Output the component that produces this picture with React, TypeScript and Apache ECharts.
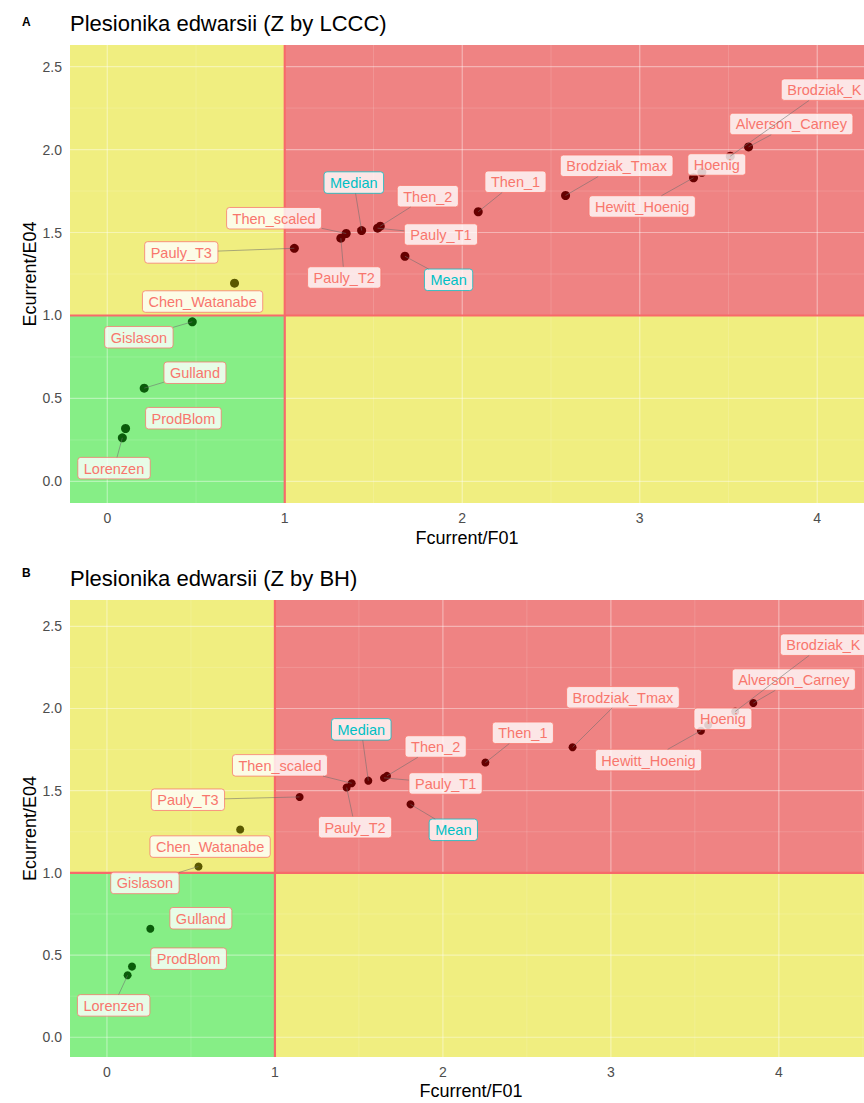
import React, { useEffect, useRef } from "react";
import * as echarts from "echarts";

// ---------- data ----------
const methods = [
  "Lorenzen", "ProdBlom", "Gulland", "Gislason", "Chen_Watanabe", "Pauly_T3",
  "Pauly_T2", "Then_scaled", "Median", "Pauly_T1", "Then_2", "Mean", "Then_1",
  "Brodziak_Tmax", "Hewitt_Hoenig", "Hoenig", "Alverson_Carney", "Brodziak_K",
];

// Panel A (Z by LCCC)
const fRatioA = [0.085, 0.103, 0.208, 0.479, 0.717, 1.054, 1.316, 1.346, 1.433, 1.523, 1.538, 1.677, 2.09, 2.582, 3.303, 3.35, 3.613, 3.51];
const eRatioA = [0.263, 0.319, 0.562, 0.962, 1.195, 1.405, 1.466, 1.494, 1.512, 1.526, 1.538, 1.357, 1.625, 1.723, 1.83, 1.863, 2.016, 1.96];
// Panel B (Z by BH)
const fRatioB = [0.123, 0.149, 0.258, 0.545, 0.793, 1.147, 1.427, 1.457, 1.556, 1.649, 1.667, 1.807, 2.253, 2.772, 3.536, 3.579, 3.848, 3.74];
const eRatioB = [0.377, 0.43, 0.66, 1.039, 1.264, 1.462, 1.519, 1.545, 1.561, 1.578, 1.59, 1.417, 1.671, 1.764, 1.865, 1.9, 2.033, 1.982];

// repelled label anchors (data units)
const labelFA = [0.038, 0.429, 0.494, 0.178, 0.537, 0.417, 1.335, 0.94, 1.389, 1.88, 1.806, 1.923, 2.3, 2.87, 3.014, 3.434, 3.854, 4.04];
const labelEA = [0.08, 0.381, 0.655, 0.869, 1.084, 1.38, 1.229, 1.586, 1.801, 1.488, 1.719, 1.215, 1.806, 1.902, 1.657, 1.91, 2.154, 2.361];
const labelFB = [0.04, 0.486, 0.559, 0.226, 0.614, 0.482, 1.477, 1.03, 1.514, 2.016, 1.957, 2.062, 2.476, 3.072, 3.224, 3.667, 4.089, 4.265];
const labelEB = [0.194, 0.478, 0.724, 0.939, 1.16, 1.445, 1.278, 1.654, 1.873, 1.544, 1.769, 1.262, 1.852, 2.068, 1.686, 1.937, 2.176, 2.388];
const segmentA = [1, 0, 1, 1, 0, 1, 1, 1, 1, 1, 1, 1, 1, 1, 1, 0, 1, 1];
const segmentB = [1, 0, 0, 1, 0, 1, 1, 1, 1, 1, 1, 1, 1, 1, 1, 0, 1, 1];

const xTicks = [0, 1, 2, 3, 4];
const xMinor = [0.5, 1.5, 2.5, 3.5, 4.5];
const yTicks = [0, 0.5, 1, 1.5, 2, 2.5];
const yMinor = [0.25, 0.75, 1.25, 1.75, 2.25];
const fRef = 1;
const eRef = 1;
const summaryMethods = ["Mean", "Median"];

// ---------- styles ----------
const FONT = '"Liberation Sans", Arial, Helvetica, sans-serif';
const LABEL_FONT_SIZE = 14.5;
const GREEN = "#86EE86";
const YELLOW = "#F0EE80";
const RED = "#EF8383";
const REF_LINE = "#F76A6A";
const SALMON = "#F8766D";
const TEAL = "#00BFC4";

let measureCtx: CanvasRenderingContext2D | null = null;
function measure(text: string): number {
  if (!measureCtx) {
    const c = document.createElement("canvas");
    measureCtx = c.getContext("2d");
  }
  if (measureCtx) {
    measureCtx.font = `${LABEL_FONT_SIZE}px ${FONT}`;
    return measureCtx.measureText(text).width;
  }
  return text.length * 7.8;
}

interface Panel {
  title: string;
  letter: string;
  f: number[];
  e: number[];
  lf: number[];
  le: number[];
  seg: number[];
  grid: { left: number; top: number; width: number; height: number };
  xMin: number;
  xMax: number;
  yMin: number;
  yMax: number;
  titleY: number;
  letterY: number;
  xTitleX: number;
  xTitleY: number;
  pointSize: number;
}

const panels: Panel[] = [
  {
    title: "Plesionika edwarsii (Z by LCCC)",
    letter: "A",
    f: fRatioA, e: eRatioA, lf: labelFA, le: labelEA, seg: segmentA,
    grid: { left: 70, top: 45, width: 820, height: 458 },
    xMin: -0.21, xMax: 4.41, yMin: -0.13, yMax: 2.63,
    titleY: 23.5, letterY: 22, xTitleX: 467, xTitleY: 538, pointSize: 9,
  },
  {
    title: "Plesionika edwarsii (Z by BH)",
    letter: "B",
    f: fRatioB, e: eRatioB, lf: labelFB, le: labelEB, seg: segmentB,
    grid: { left: 70, top: 600, width: 813, height: 457 },
    xMin: -0.22, xMax: 4.62, yMin: -0.12, yMax: 2.66,
    titleY: 578, letterY: 572.5, xTitleX: 471, xTitleY: 1091, pointSize: 8,
  },
];

function pointColor(f: number, e: number): string {
  if (f < fRef && e < eRef) return "#0A5C0A";
  if (f >= fRef && e >= eRef) return "#660000";
  return "#5A5800";
}

function backgroundRender(params: any, api: any) {
  const cs = params.coordSys;
  const x0 = cs.x, x1 = cs.x + cs.width, y0 = cs.y, y1 = cs.y + cs.height;
  const ref = api.coord([fRef, eRef]);
  const rx = ref[0], ry = ref[1];
  const children: any[] = [
    { type: "rect", shape: { x: x0, y: ry, width: rx - x0, height: y1 - ry }, style: { fill: GREEN } },
    { type: "rect", shape: { x: x0, y: y0, width: rx - x0, height: ry - y0 }, style: { fill: YELLOW } },
    { type: "rect", shape: { x: rx, y: y0, width: x1 - rx, height: ry - y0 }, style: { fill: RED } },
    { type: "rect", shape: { x: rx, y: ry, width: x1 - rx, height: y1 - ry }, style: { fill: YELLOW } },
  ];
  const minorStyle = { stroke: "rgba(255,255,255,0.2)", lineWidth: 0.7 };
  const majorStyle = { stroke: "rgba(255,255,255,0.4)", lineWidth: 1.2 };
  xMinor.forEach((v) => {
    const px = api.coord([v, eRef])[0];
    children.push({ type: "line", shape: { x1: px, y1: y0, x2: px, y2: y1 }, style: minorStyle });
  });
  yMinor.forEach((v) => {
    const py = api.coord([fRef, v])[1];
    children.push({ type: "line", shape: { x1: x0, y1: py, x2: x1, y2: py }, style: minorStyle });
  });
  xTicks.forEach((v) => {
    const px = api.coord([v, eRef])[0];
    children.push({ type: "line", shape: { x1: px, y1: y0, x2: px, y2: y1 }, style: majorStyle });
  });
  yTicks.forEach((v) => {
    const py = api.coord([fRef, v])[1];
    children.push({ type: "line", shape: { x1: x0, y1: py, x2: x1, y2: py }, style: majorStyle });
  });
  children.push({ type: "line", shape: { x1: rx, y1: y0, x2: rx, y2: y1 }, style: { stroke: REF_LINE, lineWidth: 2.2 } });
  children.push({ type: "line", shape: { x1: x0, y1: ry, x2: x1, y2: ry }, style: { stroke: REF_LINE, lineWidth: 2.2 } });
  return { type: "group", children };
}

function makeLabelRender(panel: Panel) {
  return (params: any, api: any) => {
    const i = api.value(4);
    const name = methods[i];
    const c = api.coord([api.value(0), api.value(1)]);
    const p = api.coord([api.value(2), api.value(3)]);
    const w = measure(name) + 12;
    const h = 21.5;
    const color = summaryMethods.includes(name) ? TEAL : SALMON;
    const children: any[] = [
      {
        type: "rect",
        shape: { x: c[0] - w / 2, y: c[1] - h / 2, width: w, height: h, r: 3 },
        style: { fill: "rgba(255,255,255,0.8)", stroke: color, lineWidth: 0.9, strokeOpacity: 0.85 },
      },
      {
        type: "text",
        x: c[0],
        y: c[1] + 0.5,
        style: {
          text: name,
          fill: color,
          fontSize: LABEL_FONT_SIZE,
          fontFamily: FONT,
          align: "center",
          verticalAlign: "middle",
        },
      },
    ];
    if (panel.seg[i]) {
      const dx = p[0] - c[0];
      const dy = p[1] - c[1];
      const tx = dx !== 0 ? (w / 2) / Math.abs(dx) : Infinity;
      const ty = dy !== 0 ? (h / 2) / Math.abs(dy) : Infinity;
      const t = Math.min(tx, ty);
      if (t < 1) {
        children.push({
          type: "line",
          shape: { x1: c[0] + dx * t, y1: c[1] + dy * t, x2: p[0], y2: p[1] },
          style: { stroke: "rgba(110,110,110,0.55)", lineWidth: 1 },
        });
      }
    }
    return { type: "group", children };
  };
}

export default function App() {
  const ref = useRef<HTMLDivElement>(null);
  useEffect(() => {
    if (!ref.current) return;
    const chart = echarts.init(ref.current, undefined, { renderer: "svg" });

    const grids: any[] = [];
    const xAxes: any[] = [];
    const yAxes: any[] = [];
    const series: any[] = [];
    const graphics: any[] = [];

    panels.forEach((panel, k) => {
      grids.push({ ...panel.grid, containLabel: false });
      xAxes.push({
        type: "value",
        gridIndex: k,
        min: panel.xMin,
        max: panel.xMax,
        axisLine: { show: false },
        splitLine: { show: false },
        axisTick: { show: true, length: 4, customValues: xTicks, lineStyle: { color: "#333333", width: 1.1 } },
        axisLabel: { customValues: xTicks, color: "#4D4D4D", fontSize: 14, fontFamily: FONT, margin: 8 },
      });
      yAxes.push({
        type: "value",
        gridIndex: k,
        min: panel.yMin,
        max: panel.yMax,
        axisLine: { show: false },
        splitLine: { show: false },
        axisTick: { show: true, length: 4, customValues: yTicks, lineStyle: { color: "#333333", width: 1.1 } },
        axisLabel: {
          customValues: yTicks,
          color: "#4D4D4D",
          fontSize: 14,
          fontFamily: FONT,
          margin: 8,
          formatter: (v: number) => v.toFixed(1),
        },
      });
      series.push({
        type: "custom",
        xAxisIndex: k,
        yAxisIndex: k,
        z: 1,
        clip: true,
        silent: true,
        data: [[0, 0]],
        renderItem: backgroundRender,
      });
      series.push({
        type: "scatter",
        xAxisIndex: k,
        yAxisIndex: k,
        z: 3,
        symbolSize: panel.pointSize,
        data: methods.map((m, i) => ({
          name: m,
          value: [panel.f[i], panel.e[i]],
          itemStyle: { color: pointColor(panel.f[i], panel.e[i]), opacity: 1 },
        })),
      });
      series.push({
        type: "custom",
        xAxisIndex: k,
        yAxisIndex: k,
        z: 4,
        clip: false,
        silent: true,
        data: methods.map((m, i) => [panel.lf[i], panel.le[i], panel.f[i], panel.e[i], i]),
        renderItem: makeLabelRender(panel),
      });

      const g = panel.grid;
      graphics.push({
        type: "text",
        x: 22,
        y: panel.letterY,
        style: { text: panel.letter, fontSize: 12, fontWeight: "bold", fontFamily: FONT, fill: "#000", align: "left", verticalAlign: "middle" },
      });
      graphics.push({
        type: "text",
        x: g.left,
        y: panel.titleY,
        style: { text: panel.title, fontSize: 22, fontFamily: FONT, fill: "#000", align: "left", verticalAlign: "middle" },
      });
      graphics.push({
        type: "text",
        x: panel.xTitleX,
        y: panel.xTitleY,
        style: { text: "Fcurrent/F01", fontSize: 18, fontFamily: FONT, fill: "#000", align: "center", verticalAlign: "middle" },
      });
      graphics.push({
        type: "text",
        x: 30,
        y: g.top + g.height / 2,
        rotation: Math.PI / 2,
        style: { text: "Ecurrent/E04", fontSize: 18, fontFamily: FONT, fill: "#000", align: "center", verticalAlign: "middle" },
      });
    });

    chart.setOption({
      animation: false,
      backgroundColor: "#ffffff",
      grid: grids,
      xAxis: xAxes,
      yAxis: yAxes,
      series,
      graphic: graphics,
    });
    return () => chart.dispose();
  }, []);

  return (
    <div style={{ position: "absolute", left: 0, top: 0, width: 864, height: 1103, overflow: "hidden", background: "#fff" }}>
      <div ref={ref} style={{ width: 900, height: 1103 }} />
    </div>
  );
}
